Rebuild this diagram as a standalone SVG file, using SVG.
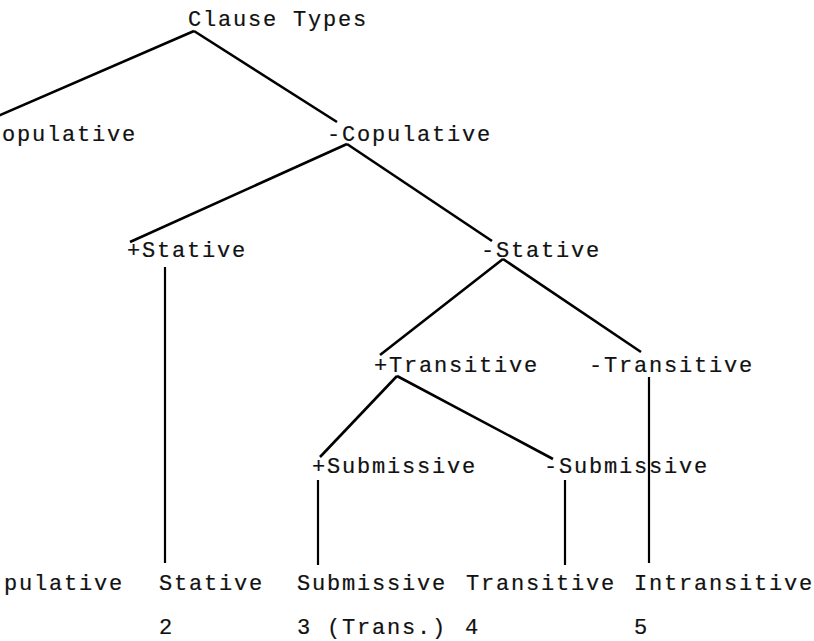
<svg xmlns="http://www.w3.org/2000/svg" width="814" height="641" viewBox="0 0 814 641">
<style>
text{font-family:"Liberation Mono","Courier New",monospace;font-size:22px;letter-spacing:1.8px;fill:#111;stroke:#111;stroke-width:0.2}
.e{stroke:#000;stroke-width:2.6;fill:none;stroke-linecap:butt}
.v{stroke:#000;stroke-width:2.2;fill:none}
</style>
<rect width="814" height="641" fill="#fff"/>
<g id="connectors">
<line class="e" x1="194" y1="31" x2="-2" y2="116"/>
<line class="e" x1="194" y1="31" x2="337" y2="122"/>
<line class="e" x1="347" y1="144" x2="130" y2="242"/>
<line class="e" x1="347" y1="144" x2="492" y2="241"/>
<line class="v" x1="165" y1="267" x2="165" y2="563"/>
<line class="e" x1="503" y1="259" x2="380" y2="355"/>
<line class="e" x1="503" y1="259" x2="641" y2="352"/>
<line class="v" x1="649" y1="377" x2="649" y2="563"/>
<line class="e" x1="397" y1="376" x2="320" y2="457"/>
<line class="e" x1="397" y1="376" x2="553" y2="459"/>
<line class="v" x1="318" y1="480" x2="318" y2="565"/>
<line class="v" x1="565" y1="480" x2="565" y2="565"/>
</g>
<g id="root"><text x="188" y="26">Clause Types</text></g>
<g id="plus-copulative"><text x="2" y="141">opulative</text></g>
<g id="minus-copulative"><text x="327" y="141">-Copulative</text></g>
<g id="plus-stative"><text x="127" y="257">+Stative</text></g>
<g id="minus-stative"><text x="481" y="257">-Stative</text></g>
<g id="plus-transitive"><text x="374" y="372">+Transitive</text></g>
<g id="minus-transitive"><text x="589" y="372">-Transitive</text></g>
<g id="plus-submissive"><text x="312" y="473">+Submissive</text></g>
<g id="minus-submissive"><text x="544" y="473">-Submissive</text></g>
<g id="leaf-copulative"><text x="4" y="590">pulative</text></g>
<g id="leaf-stative"><text x="159" y="590">Stative</text><text x="159" y="634">2</text></g>
<g id="leaf-submissive"><text x="297" y="590">Submissive</text><text x="297" y="634">3 (Trans.)</text></g>
<g id="leaf-transitive"><text x="466" y="590">Transitive</text><text x="465" y="634">4</text></g>
<g id="leaf-intransitive"><text x="634" y="590">Intransitive</text><text x="634" y="634">5</text></g>
</svg>
